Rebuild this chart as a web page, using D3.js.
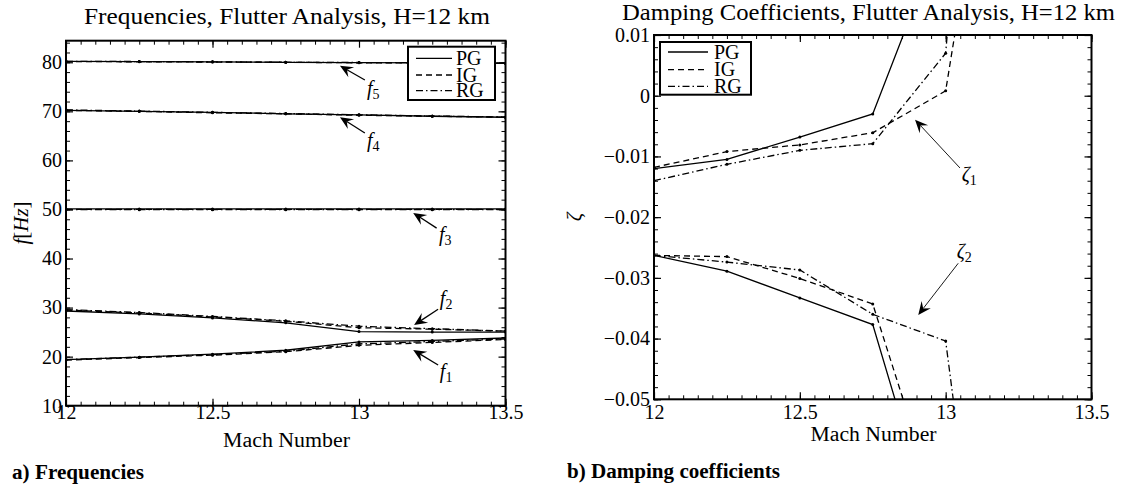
<!DOCTYPE html>
<html>
<head>
<meta charset="utf-8">
<script src="https://cdn.jsdelivr.net/npm/d3@7"></script>
<style>
  body { margin: 0; background: #fff; }
  svg { display: block; }
</style>
</head>
<body>
<svg id="chart" width="1123" height="486"></svg>
<script>
// ---------------- data ----------------
const mach = [12, 12.25, 12.5, 12.75, 13, 13.25, 13.5];
const gasModels = ["PG", "IG", "RG"];

// natural frequencies [Hz] of modes 1..5 for each gas model
const f1PG = [19.4, 19.9, 20.5, 21.3, 23.0, 23.3, 23.8];
const f1IG = [19.3, 19.8, 20.3, 21.0, 22.3, 22.9, 23.5];
const f1RG = [19.4, 19.9, 20.4, 21.1, 22.6, 23.1, 23.6];
const f2PG = [29.3, 28.7, 27.9, 26.9, 25.1, 25.0, 25.0];
const f2IG = [29.5, 28.9, 28.1, 27.2, 25.9, 25.6, 25.2];
const f2RG = [29.6, 29.0, 28.2, 27.3, 26.2, 25.7, 25.2];
const f3PG = [50.1, 50.1, 50.1, 50.1, 50.1, 50.1, 50.1];
const f3IG = [50.0, 50.0, 50.0, 50.0, 50.0, 50.0, 50.0];
const f3RG = [49.95, 49.95, 49.95, 49.95, 49.95, 49.95, 49.95];
const f4PG = [70.2, 70.0, 69.8, 69.5, 69.3, 69.0, 68.8];
const f4IG = [70.2, 70.0, 69.7, 69.5, 69.2, 69.0, 68.8];
const f4RG = [70.3, 70.05, 69.8, 69.55, 69.3, 69.05, 68.85];
const f5PG = [80.2, 80.15, 80.1, 80.0, 79.95, 79.9, 79.8];
const f5IG = [80.15, 80.1, 80.05, 80.0, 79.9, 79.85, 79.8];
const f5RG = [80.2, 80.15, 80.1, 80.0, 79.95, 79.9, 79.8];

// damping coefficients of the two coupled modes (series stop once far off-scale)
const z1PG = [-0.0120, -0.0105, -0.0068, -0.0030, 0.028];
const z1IG = [-0.0118, -0.0092, -0.0081, -0.0061, 0.0008, 0.075];
const z1RG = [-0.0140, -0.0113, -0.0090, -0.0079, 0.0070, 0.15];
const z2PG = [-0.0263, -0.0289, -0.0333, -0.0377, -0.078];
const z2IG = [-0.0263, -0.0265, -0.0301, -0.0343, -0.072];
const z2RG = [-0.0263, -0.0274, -0.0287, -0.0360, -0.0404, -0.133];

// axis ticks and labels
const machTicks = [12, 12.5, 13, 13.5];
const machTickLabels = ["12", "12.5", "13", "13.5"];
const freqTicks = [10, 20, 30, 40, 50, 60, 70, 80];
const freqTickLabels = ["10", "20", "30", "40", "50", "60", "70", "80"];
const dampTicks = [-0.05, -0.04, -0.03, -0.02, -0.01, 0, 0.01];
const dampTickLabels = ["\u22120.05", "\u22120.04", "\u22120.03", "\u22120.02", "\u22120.01", "0", "0.01"];

// ---------------- styles ----------------
const SERIF = '"Liberation Serif", "Times New Roman", Times, serif';
const dash = { PG: null, IG: "6,4", RG: "7,3,1.5,3" };
const svg = d3.select("#chart");

// series tables
const freqModes = [
  { PG: f1PG, IG: f1IG, RG: f1RG },
  { PG: f2PG, IG: f2IG, RG: f2RG },
  { PG: f3PG, IG: f3IG, RG: f3RG },
  { PG: f4PG, IG: f4IG, RG: f4RG },
  { PG: f5PG, IG: f5IG, RG: f5RG }
];
const dampModes = [
  { PG: z1PG, IG: z1IG, RG: z1RG },
  { PG: z2PG, IG: z2IG, RG: z2RG }
];

function fit(sel, w) {
  sel.attr("textLength", w).attr("lengthAdjust", "spacingAndGlyphs");
}

function drawPanel(id, x, y, opts) {
  const g = svg.append("g");
  const [x0, x1] = x.range();
  const [y0, y1] = y.range(); // y0 bottom, y1 top

  svg.append("clipPath").attr("id", "clip-" + id)
    .append("rect").attr("x", x0).attr("y", y1).attr("width", x1 - x0).attr("height", y0 - y1);

  // minor ticks on all four sides
  const xMinor = d3.range(0, 31).map(i => 12 + i * 0.05);
  const minorAxes = [
    [d3.axisBottom(x).tickValues(xMinor), `translate(0,${y0})`],
    [d3.axisTop(x).tickValues(xMinor), `translate(0,${y1})`],
    [d3.axisLeft(y).tickValues(opts.yMinor), `translate(${x0},0)`],
    [d3.axisRight(y).tickValues(opts.yMinor), `translate(${x1},0)`]
  ];
  minorAxes.forEach(([ax, tr]) => {
    const a = g.append("g").attr("transform", tr)
      .call(ax.tickSize(-4).tickFormat(""));
    a.select(".domain").remove();
    a.selectAll("line").attr("stroke", "#000").attr("stroke-width", 1);
  });

  // major ticks
  const bottom = g.append("g").attr("transform", `translate(0,${y0})`)
    .call(d3.axisBottom(x).tickValues(machTicks).tickSize(-7)
      .tickFormat((d, i) => machTickLabels[i]));
  const top = g.append("g").attr("transform", `translate(0,${y1})`)
    .call(d3.axisTop(x).tickValues(machTicks).tickSize(-7).tickFormat(""));
  const left = g.append("g").attr("transform", `translate(${x0},0)`)
    .call(d3.axisLeft(y).tickValues(opts.yTicks).tickSize(-7).tickPadding(4)
      .tickFormat((d, i) => opts.yLabels[i]));
  const right = g.append("g").attr("transform", `translate(${x1},0)`)
    .call(d3.axisRight(y).tickValues(opts.yTicks).tickSize(-7).tickFormat(""));
  [bottom, top, left, right].forEach(a => {
    a.select(".domain").remove();
    a.selectAll("line").attr("stroke", "#000").attr("stroke-width", 1.2);
    a.attr("font-size", null).attr("font-family", null);
    a.selectAll("text").style("font-size", "20px").style("font-family", SERIF).attr("fill", "#000");
  });
  bottom.selectAll("text").attr("dy", null).attr("y", opts.xLabelY);

  // data lines
  const line = d3.line().x(d => x(d[0])).y(d => y(d[1]));
  const plot = g.append("g").attr("clip-path", `url(#clip-${id})`);
  opts.modes.forEach(mode => {
    gasModels.forEach(gm => {
      const pts = mode[gm].map((v, i) => [mach[i], v]);
      plot.append("path").datum(pts)
        .attr("d", line)
        .attr("fill", "none")
        .attr("stroke", "#000")
        .attr("stroke-width", 1.3)
        .attr("stroke-dasharray", dash[gm]);
      plot.selectAll(null).data(pts).enter().append("circle")
        .attr("cx", d => x(d[0])).attr("cy", d => y(d[1]))
        .attr("r", 1.5).attr("fill", "#000");
    });
  });

  // frame
  g.append("rect").attr("x", x0).attr("y", y1)
    .attr("width", x1 - x0).attr("height", y0 - y1)
    .attr("fill", "none").attr("stroke", "#000").attr("stroke-width", 2);

  return g;
}

function drawArrow(g, x, y, a, width) {
  const tx = x(a.tail[0]), ty = y(a.tail[1]);
  const hx = x(a.tip[0]), hy = y(a.tip[1]);
  const dx = hx - tx, dy = hy - ty, len = Math.hypot(dx, dy);
  const ux = dx / len, uy = dy / len, nx = -uy, ny = ux;
  const L = 13, Wd = 5.8, back = 0.62 * L;
  g.append("line")
    .attr("x1", tx).attr("y1", ty)
    .attr("x2", hx - ux * back).attr("y2", hy - uy * back)
    .attr("stroke", "#000").attr("stroke-width", width);
  const pts = [
    [hx, hy],
    [hx - ux * L + nx * Wd, hy - uy * L + ny * Wd],
    [hx - ux * back, hy - uy * back],
    [hx - ux * L - nx * Wd, hy - uy * L - ny * Wd]
  ];
  g.append("path").attr("d", "M" + pts.join("L") + "Z").attr("fill", "#000");
  const t = g.append("text")
    .attr("x", x(a.text[0])).attr("y", y(a.text[1]))
    .style("font-size", "20px");
  t.append("tspan").style("font-style", "italic").text(a.sym);
  t.append("tspan").attr("dy", 4).style("font-size", "14px").text(a.sub);
}

function drawLegend(g, box, rows) {
  g.append("rect").attr("x", box.x).attr("y", box.y)
    .attr("width", box.w).attr("height", box.h)
    .attr("fill", "#fff").attr("stroke", "#000").attr("stroke-width", 2);
  gasModels.forEach((gm, i) => {
    const yy = rows[i];
    g.append("line")
      .attr("x1", box.lx0).attr("x2", box.lx1).attr("y1", yy).attr("y2", yy)
      .attr("stroke", "#000").attr("stroke-width", 1.3)
      .attr("stroke-dasharray", dash[gm]);
    g.append("text").attr("x", box.tx).attr("y", yy + 6.5)
      .style("font-size", "20px").text(gm);
  });
}

// ---------------- panel a: frequencies ----------------
const xA = d3.scaleLinear().domain([12, 13.5]).range([66, 505.5]);
const yA = d3.scaleLinear().domain([10, 84.4]).range([405.7, 40.7]);
const gA = drawPanel("a", xA, yA, {
  yTicks: freqTicks, yLabels: freqTickLabels,
  yMinor: d3.range(10, 85, 2),
  xLabelY: 13, modes: freqModes
});

const freqArrows = [
  { sym: "f", sub: "5", tip: [12.935, 79.3], tail: [13.02, 76.4], text: [13.027, 73.3] },
  { sym: "f", sub: "4", tip: [12.935, 68.8], tail: [13.02, 65.6], text: [13.027, 62.8] },
  { sym: "f", sub: "3", tip: [13.185, 49.3], tail: [13.265, 46.2], text: [13.273, 43.6] },
  { sym: "f", sub: "2", tip: [13.188, 26.45], tail: [13.27, 29.65], text: [13.276, 30.5] },
  { sym: "f", sub: "1", tip: [13.185, 21.35], tail: [13.27, 18.3], text: [13.276, 15.65] }
];
freqArrows.forEach(a => drawArrow(gA, xA, yA, a, 1.3));

drawLegend(gA, { x: 408, y: 46.7, w: 87, h: 53.3, lx0: 416, lx1: 452, tx: 456 }, [58.3, 75, 90.7]);

// titles and labels
fit(svg.append("text").attr("x", 287).attr("y", 24).attr("text-anchor", "middle")
  .style("font-size", "23px").text("Frequencies, Flutter Analysis, H=12 km"), 406);
fit(svg.append("text").attr("x", 286.5).attr("y", 447).attr("text-anchor", "middle")
  .style("font-size", "20px").text("Mach Number"), 127);
{
  const t = svg.append("text").attr("transform", "translate(28,223) rotate(-90)")
    .attr("text-anchor", "middle").style("font-size", "21px");
  t.append("tspan").style("font-style", "italic").text("f");
  t.append("tspan").text("[");
  t.append("tspan").style("font-style", "italic").text("Hz");
  t.append("tspan").text("]");
}
fit(svg.append("text").attr("x", 12).attr("y", 479).style("font-size", "20px")
  .style("font-weight", "bold").text("a) Frequencies"), 132);

// ---------------- panel b: damping ----------------
const xB = d3.scaleLinear().domain([12, 13.5]).range([654, 1091.5]);
const yB = d3.scaleLinear().domain([-0.05, 0.01]).range([399.3, 35]);
const gB = drawPanel("b", xB, yB, {
  yTicks: dampTicks, yLabels: dampTickLabels,
  yMinor: d3.range(-50, 11, 2).map(v => v / 1000),
  xLabelY: 20, modes: dampModes
});

const dampArrows = [
  { sym: "\u03b6", sub: "1", tip: [12.895, -0.00395], tail: [13.049, -0.0119], text: [13.055, -0.01405] },
  { sym: "\u03b6", sub: "2", tip: [12.906, -0.0361], tail: [13.043, -0.0276], text: [13.038, -0.0267] }
];
dampArrows.forEach(a => drawArrow(gB, xB, yB, a, 0.9));

drawLegend(gB, { x: 660, y: 42, w: 91, h: 52.7, lx0: 668, lx1: 708, tx: 714 }, [52, 69.7, 86.3]);

fit(svg.append("text").attr("x", 868.5).attr("y", 20).attr("text-anchor", "middle")
  .style("font-size", "23px").text("Damping Coefficients, Flutter Analysis, H=12 km"), 493);
fit(svg.append("text").attr("x", 873.5).attr("y", 441).attr("text-anchor", "middle")
  .style("font-size", "20px").text("Mach Number"), 126);
svg.append("text").attr("transform", "translate(581,217) rotate(-90)")
  .attr("text-anchor", "middle").style("font-size", "21px").style("font-style", "italic")
  .text("\u03b6");
fit(svg.append("text").attr("x", 567).attr("y", 478).style("font-size", "20px")
  .style("font-weight", "bold").text("b) Damping coefficients"), 213);

// one serif face for every label
svg.selectAll("text").style("font-family", SERIF).attr("fill", "#000");
</script>
</body>
</html>
